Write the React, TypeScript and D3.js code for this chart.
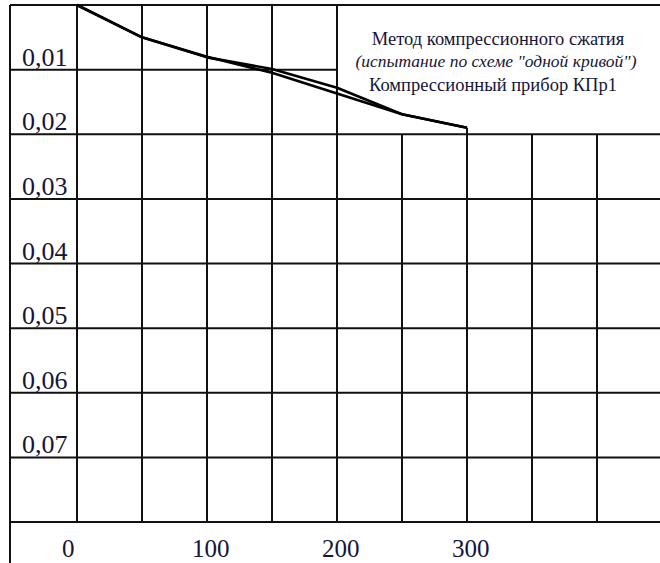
import React from "react";
import * as d3 from "d3";

// ---- data ----
const loadSteps = [0, 50, 100, 150, 200, 250, 300];
const curveA = [0, 0.005, 0.0081, 0.0099, 0.0128, 0.0169, 0.019];
const curveB = [0, 0.005, 0.008, 0.0105, 0.0137, 0.0169, 0.019];
const xTickValues = [0, 100, 200, 300];
const xTickLabels = ["0", "100", "200", "300"];
const yTickValues = [0.01, 0.02, 0.03, 0.04, 0.05, 0.06, 0.07];
const yTickLabels = ["0,01", "0,02", "0,03", "0,04", "0,05", "0,06", "0,07"];
const gridX = [0, 50, 100, 150, 200, 250, 300, 350, 400, 450];
const gridY = [0.01, 0.02, 0.03, 0.04, 0.05, 0.06, 0.07, 0.08];
const titleLines = [
  "Метод компрессионного сжатия",
  "(испытание по схеме \"одной кривой\")",
  "Компрессионный прибор КПр1",
];

const W = 660;
const H = 563;
const LEFT = 10;
const FONT = "'Liberation Serif', 'DejaVu Serif', serif";

export default function App() {
  const x = d3.scaleLinear().domain([0, 300]).range([77, 467]);
  const y = d3.scaleLinear().domain([0, 0.08]).range([5, 522]);
  const line = d3
    .line<number>()
    .x((_, i) => x(loadSteps[i]))
    .y((d) => y(d));

  const stroke = "#111";
  const gw = 2;
  const txt = "#15153a";

  return (
    <svg
      width={W}
      height={H}
      style={{ position: "absolute", left: 0, top: 0, background: "#fff" }}
    >
      <rect width={W} height={H} fill="#fff" />
      {/* outer left border */}
      <line x1={LEFT} x2={LEFT} y1={y(0)} y2={H} stroke={stroke} strokeWidth={gw} />
      {/* top border */}
      <line x1={LEFT} x2={W} y1={y(0)} y2={y(0)} stroke={stroke} strokeWidth={gw} />
      {/* horizontal grid */}
      {gridY.map((v) => (
        <line
          key={"h" + v}
          x1={LEFT}
          x2={v === 0.01 ? x(200) : W}
          y1={y(v)}
          y2={y(v)}
          stroke={stroke}
          strokeWidth={gw}
        />
      ))}
      {/* vertical grid */}
      {gridX.map((v) => (
        <line
          key={"v" + v}
          x1={x(v)}
          x2={x(v)}
          y1={v <= 200 ? y(0) : y(0.02)}
          y2={y(0.08)}
          stroke={stroke}
          strokeWidth={gw}
        />
      ))}
      {/* curves */}
      <path d={line(curveA) || ""} fill="none" stroke="#000" strokeWidth={2.6} strokeLinejoin="round" />
      <path d={line(curveB) || ""} fill="none" stroke="#000" strokeWidth={2.6} strokeLinejoin="round" />
      <line
        x1={x(300)}
        x2={x(300)}
        y1={y(curveA[curveA.length - 1])}
        y2={y(0.02)}
        stroke={stroke}
        strokeWidth={gw}
      />
      {/* y labels */}
      {yTickValues.map((v, i) => (
        <text key={"yl" + v} x={22} y={y(v) - 4} style={{ fontFamily: FONT, fontSize: 26 }} fill={txt}>
          {yTickLabels[i]}
        </text>
      ))}
      {/* x labels */}
      {xTickValues.map((v, i) => (
        <text key={"xl" + v} x={x(v) - 15} y={557} style={{ fontFamily: FONT, fontSize: 25 }} fill={txt}>
          {xTickLabels[i]}
        </text>
      ))}
      {/* title */}
      <text x={498} y={45} textAnchor="middle" fill={txt} style={{ fontFamily: FONT, fontSize: 18.5 }}>
        {titleLines[0]}
      </text>
      <text
        x={496}
        y={67}
        textAnchor="middle"
        fill={txt}
        style={{ fontFamily: FONT, fontSize: 17.5, fontStyle: "italic" }}
      >
        {titleLines[1]}
      </text>
      <text x={493} y={91} textAnchor="middle" fill={txt} style={{ fontFamily: FONT, fontSize: 18.5 }}>
        {titleLines[2]}
      </text>
    </svg>
  );
}
